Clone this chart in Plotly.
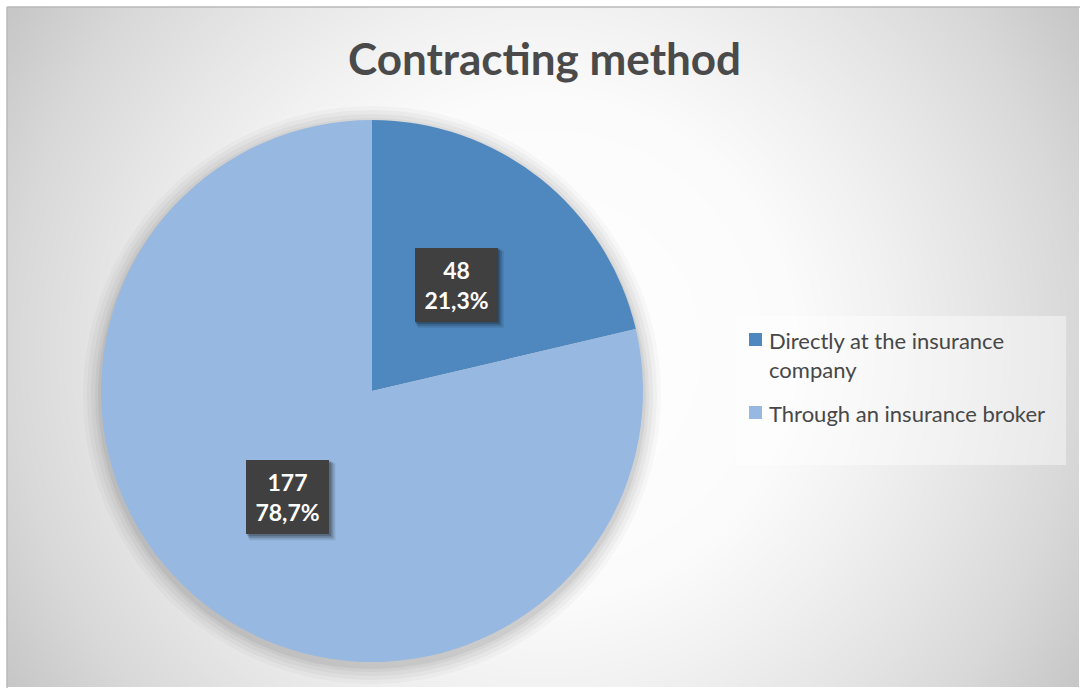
import textwrap
import numpy as np
import plotly.graph_objects as go

# ---- data ----
categories = ["Directly at the insurance company", "Through an insurance broker"]
counts = [48, 177]
colors = ["#4f88be", "#97b8e0"]
title_text = "Contracting method"

# ---- canvas geometry (pixels) ----
W, H = 1080, 688
FRAME = 7                 # white margin at top/left of the chart frame
CX, CY, R = 372, 391, 271  # pie centre and radius
FONT = "Lato"

fig = go.Figure()

# radial grey background, lightest at the middle of the chart area
gx = np.arange(FRAME + 4, W, 8)
gy = np.arange(FRAME + 4, H, 8)
X, Y = np.meshgrid(gx, gy)
dist = np.hypot(X - 544, Y - 348)
shade = np.interp(dist, [0, 250, 344, 440, 535, 645], [255, 251, 241, 229, 216, 196])
fig.add_trace(go.Heatmap(
    x=gx, y=gy, z=shade, zmin=196, zmax=255, zsmooth="best",
    colorscale=[[0, "rgb(196,196,196)"], [1, "rgb(255,255,255)"]],
    showscale=False, hoverinfo="skip",
))

# soft shadow under the pie
t = np.linspace(0, 2 * np.pi, 181)
for grow, alpha in [(18, 0.025), (14, 0.03), (10, 0.035), (6, 0.04), (3, 0.05)]:
    fig.add_trace(go.Scatter(
        x=CX + (R + grow) * np.sin(t), y=CY + 4 + (R + grow) * np.cos(t),
        mode="lines", line=dict(width=0), fill="toself",
        fillcolor=f"rgba(0,0,0,{alpha})", showlegend=False, hoverinfo="skip",
    ))

# pie
fig.add_trace(go.Pie(
    labels=categories, values=counts, sort=False, direction="clockwise",
    rotation=0, marker=dict(colors=colors, line=dict(width=0)),
    textinfo="none", hoverinfo="label+value+percent", showlegend=False,
    domain=dict(x=[(CX - R) / W, (CX + R) / W],
                y=[1 - (CY + R) / H, 1 - (CY - R) / H]),
))

# data labels: count and share, on dark boxes half way out along each slice
total = sum(counts)
BOX_W, BOX_H, PAD = 83, 74, 8
shapes = []
annotations = []
start = 0.0
for v in counts:
    frac = v / total
    mid = (start + frac / 2) * 2 * np.pi
    start += frac
    lx = CX + 0.5 * R * np.sin(mid)
    ly = CY - 0.5 * R * np.cos(mid)
    x0, x1 = lx - BOX_W / 2, lx + BOX_W / 2
    y0, y1 = ly - BOX_H / 2, ly + BOX_H / 2
    for off, a in [(6, 0.10), (4, 0.16), (2, 0.22)]:
        shapes.append(dict(type="rect", xref="x", yref="y", layer="above",
                           x0=x0 + off / 2, x1=x1 + off, y0=y0 + off / 2, y1=y1 + off,
                           fillcolor=f"rgba(0,0,0,{a})", line=dict(width=0)))
    pct = f"{frac * 100:.1f}".replace(".", ",")
    annotations.append(dict(
        x=lx, y=ly, xref="x", yref="y", showarrow=False,
        text=f"<b>{v}<br>{pct}%</b>", align="center", valign="middle",
        width=BOX_W - 2 * PAD, height=BOX_H - 2 * PAD, borderpad=PAD,
        borderwidth=0, bgcolor="#404040",
        font=dict(family=FONT, size=23, color="white"),
    ))

# legend panel with a colour key per category
shapes.append(dict(type="rect", xref="x", yref="y", layer="above",
                   x0=736, x1=1066, y0=316, y1=465,
                   fillcolor="rgba(255,255,255,0.42)", line=dict(width=0)))
LEG_X, LEG_TOP, LINE_H, ITEM_GAP = 749, 340, 30, 13
row_y = LEG_TOP
for cat, col in zip(categories, colors):
    lines = textwrap.wrap(cat, 27)
    shapes.append(dict(type="rect", xref="x", yref="y", layer="above",
                       x0=LEG_X, x1=LEG_X + 13, y0=row_y - 7, y1=row_y + 6,
                       fillcolor=col, line=dict(width=0)))
    annotations.append(dict(
        x=LEG_X + 18, y=row_y - LINE_H / 2, xref="x", yref="y",
        xanchor="left", yanchor="top", showarrow=False, align="left",
        text="<br>".join(lines),
        font=dict(family=FONT, size=22, color="#474747"),
    ))
    row_y += LINE_H * len(lines) + ITEM_GAP

# chart frame edges
shapes.append(dict(type="line", xref="x", yref="y", layer="above",
                   x0=FRAME, x1=W, y0=FRAME, y1=FRAME, line=dict(color="#b8b8b8", width=1.5)))
shapes.append(dict(type="line", xref="x", yref="y", layer="above",
                   x0=FRAME, x1=FRAME, y0=FRAME, y1=H, line=dict(color="#b8b8b8", width=1.5)))

annotations.append(dict(
    x=W / 2 + 4, y=58, xref="x", yref="y", showarrow=False,
    text=f"<b>{title_text}</b>", font=dict(family=FONT, size=44, color="#4a4a4a"),
))

fig.update_layout(
    width=W, height=H, margin=dict(l=0, r=0, t=0, b=0),
    paper_bgcolor="white", plot_bgcolor="white",
    xaxis=dict(range=[0, W], visible=False, fixedrange=True),
    yaxis=dict(range=[H, 0], visible=False, fixedrange=True),
    shapes=shapes, annotations=annotations,
    showlegend=False,
)

fig.write_html("out.html")
